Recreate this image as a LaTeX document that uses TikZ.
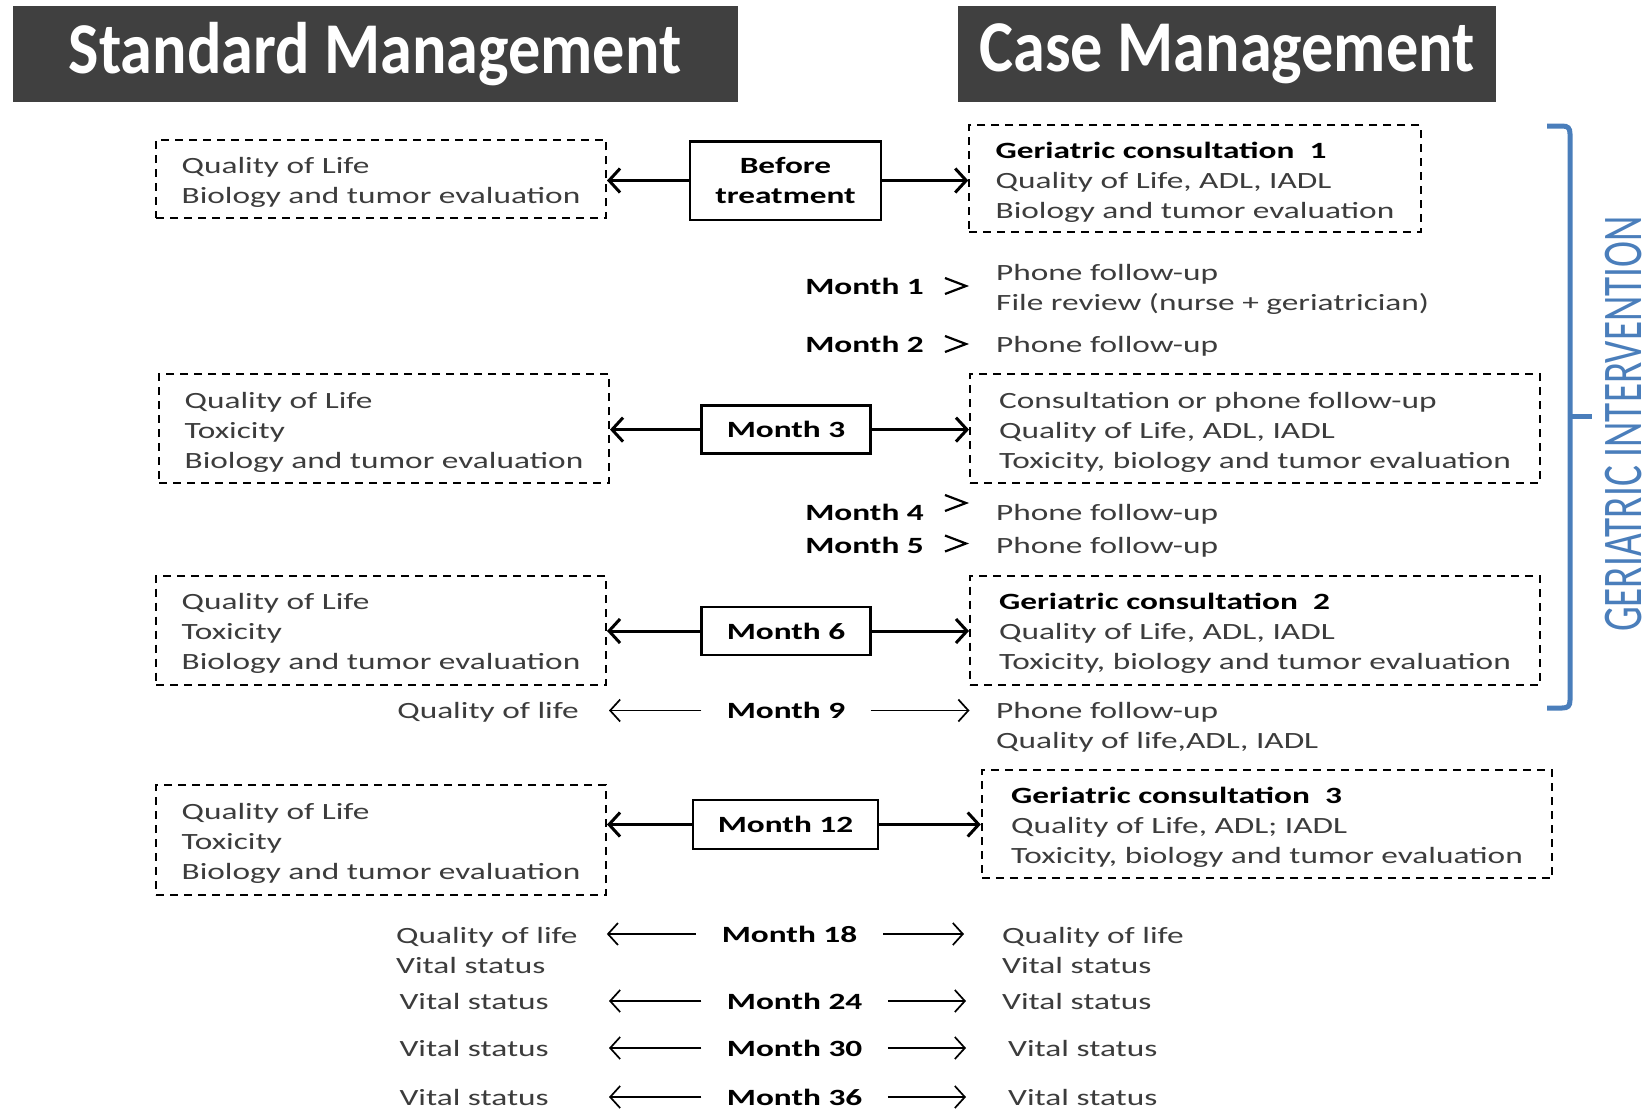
\documentclass[tikz,border=0pt]{standalone}
\usepackage{fontspec}
\setmainfont{Carlito}[FakeStretch=1.43]
\newfontfamily\titlefont{Carlito}[FakeStretch=0.88]
\newfontfamily\gifont{Carlito}[FakeStretch=0.7]
\usetikzlibrary{arrows.meta}
\definecolor{hdr}{HTML}{404040}
\definecolor{txt}{HTML}{3C3C3C}
\definecolor{gi}{HTML}{4A7EBB}
\newcommand{\dlines}[1]{\raisebox{-3.7pt}[\height][\depth]{\begin{tabular}{@{}l@{}}#1\end{tabular}}}
\begin{document}
\begin{tikzpicture}[x=1pt,y=-1pt,
 every node/.style={font=\fontsize{23.3}{30}\selectfont, text=txt},
 hdrbox/.style={fill=hdr, text=white, font=\titlefont\fontsize{73}{80}\selectfont\bfseries, minimum height=96, inner sep=0},
 dbox/.style={draw=black, line width=2pt, dash pattern=on 8pt off 6pt, inner sep=0},
 sbox/.style={draw=black, line width=2.5pt, align=center, inner sep=0, font=\fontsize{23.3}{30}\selectfont\bfseries, text=black},
 mlab/.style={font=\fontsize{23.3}{30}\selectfont\bfseries, text=black, inner sep=0},
 plain/.style={align=left, inner sep=0},
 bigarr/.style={line width=3pt, -{Straight Barb[length=11pt,width=24pt]}},
 thinarr/.style={line width=1.7pt, -{Straight Barb[length=10pt,width=22pt]}},
 chev/.style={line width=2.2pt, line join=miter}
]
\fill[white] (0,0) rectangle (1647,1109);
\useasboundingbox (0,0) rectangle (1647,1109);

% headers
\node[hdrbox, minimum width=725] (h1) at (375,54) {Standard Management};
\node[hdrbox, minimum width=538] (h2) at (1227,54) {Case Management};

% before treatment
\node[dbox, minimum width=450, minimum height=78.5] (l1) at (381,179) {\dlines{Quality of Life\\Biology and tumor evaluation}};
\node[sbox, minimum width=191, minimum height=78.5] (bt) at (785.5,180.5) {Before\\treatment};
\node[dbox, minimum width=451.5, minimum height=107] (r1) at (1195,178.5) {\dlines{{\bfseries\color{black}Geriatric consultation\ \ 1}\\Quality of Life, ADL, IADL\\Biology and tumor evaluation}};
\draw[bigarr] (bt.west) -- (bt.west -| l1.east);
\draw[bigarr] (bt.east) -- (bt.east -| r1.west);

% month 1, 2
\node[mlab, anchor=east] (m1) at (924,286) {Month 1};
\node[plain, anchor=west] (t1) at (996,289.5) {Phone follow-up\\File review (nurse + geriatrician)};
\draw[chev] ([shift={(21,-8)}]m1.east) -- ++(21,8) -- ++(-21,8);
\node[mlab, anchor=east] (m2) at (924,344) {Month 2};
\node[plain, anchor=west] (t2) at (996,346) {Phone follow-up};
\draw[chev] ([shift={(21,-8)}]m2.east) -- ++(21,8) -- ++(-21,8);

% month 3
\node[dbox, minimum width=450, minimum height=109] (l3) at (384,428.5) {\dlines{Quality of Life\\Toxicity\\Biology and tumor evaluation}};
\node[sbox, minimum width=169, minimum height=48] (m3) at (786,429.6) {Month 3};
\node[dbox, minimum width=570, minimum height=109] (r3) at (1255,428.5) {\dlines{Consultation or phone follow-up\\Quality of Life, ADL, IADL\\Toxicity, biology and tumor evaluation}};
\draw[bigarr] (m3.west) -- (m3.west -| l3.east);
\draw[bigarr] (m3.east) -- (m3.east -| r3.west);

% month 4, 5
\node[mlab, anchor=east] (m4) at (924,512) {Month 4};
\node[plain, anchor=west] (t4) at (996,514.5) {Phone follow-up};
\draw[chev] ([shift={(21,-17)}]m4.east) -- ++(21,8) -- ++(-21,8);
\node[mlab, anchor=east] (m5) at (924,545.5) {Month 5};
\node[plain, anchor=west] (t5) at (996,547.5) {Phone follow-up};
\draw[chev] ([shift={(21,-10)}]m5.east) -- ++(21,8) -- ++(-21,8);

% month 6
\node[dbox, minimum width=450, minimum height=109] (l6) at (381,630) {\dlines{Quality of Life\\Toxicity\\Biology and tumor evaluation}};
\node[sbox, minimum width=169, minimum height=48] (m6) at (786,631) {Month 6};
\node[dbox, minimum width=570, minimum height=109] (r6) at (1255,630) {\dlines{{\bfseries\color{black}Geriatric consultation\ \ 2}\\Quality of Life, ADL, IADL\\Toxicity, biology and tumor evaluation}};
\draw[bigarr] (m6.west) -- (m6.west -| l6.east);
\draw[bigarr] (m6.east) -- (m6.east -| r6.west);

% month 9
\node[mlab, minimum width=169] (m9) at (786,710.5) {Month 9};
\node[plain, anchor=east, inner xsep=30] (l9) at (609,712.5) {Quality of life};
\node[plain, anchor=west, inner xsep=26.5] (r9) at (969.5,727.5) {Phone follow-up\\Quality of life,ADL, IADL};
\draw[thinarr] (m9.west) -- (m9.west -| l9.east);
\draw[thinarr] (m9.east) -- (m9.east -| r9.west);

% month 12
\node[dbox, minimum width=450, minimum height=110] (l12) at (381,840) {\dlines{Quality of Life\\Toxicity\\Biology and tumor evaluation}};
\node[sbox, minimum width=185, minimum height=49] (m12) at (785.5,824.5) {Month 12};
\node[dbox, minimum width=570.5, minimum height=108] (r12) at (1267,824) {\dlines{{\bfseries\color{black}Geriatric consultation\ \ 3}\\Quality of Life, ADL; IADL\\Toxicity, biology and tumor evaluation}};
\draw[bigarr] (m12.west) -- (m12.west -| l12.east);
\draw[bigarr] (m12.east) -- (m12.east -| r12.west);

% month 18
\node[mlab, minimum width=187] (m18) at (789.5,934) {Month 18};
\node[plain, anchor=west, inner xsep=29] (l18) at (367,950.5) {Quality of life\\Vital status};
\node[plain, anchor=west, inner xsep=38] (r18) at (964,950.5) {Quality of life\\Vital status};
\draw[thinarr] (m18.west) -- (m18.west -| l18.east);
\draw[thinarr] (m18.east) -- (m18.east -| r18.west);

% month 24
\node[mlab, minimum width=186] (m24) at (794.6,1001) {Month 24};
\node[plain, anchor=east, inner xsep=60] (l24) at (609,1001) {Vital status};
\node[plain, anchor=west, inner xsep=36] (r24) at (966,1001) {Vital status};
\draw[thinarr] (m24.west) -- (l24.east);
\draw[thinarr] (m24.east) -- (r24.west);

% month 30
\node[mlab, minimum width=186] (m30) at (794.6,1048) {Month 30};
\node[plain, anchor=east, inner xsep=60] (l30) at (609,1048) {Vital status};
\node[plain, anchor=west, inner xsep=42] (r30) at (966,1048) {Vital status};
\draw[thinarr] (m30.west) -- (l30.east);
\draw[thinarr] (m30.east) -- (r30.west);

% month 36
\node[mlab, minimum width=186] (m36) at (794.6,1097) {Month 36};
\node[plain, anchor=east, inner xsep=60] (l36) at (609,1097) {Vital status};
\node[plain, anchor=west, inner xsep=42] (r36) at (966,1097) {Vital status};
\draw[thinarr] (m36.west) -- (l36.east);
\draw[thinarr] (m36.east) -- (r36.west);

% brace
\draw[gi, line width=5pt] (1547,126) -- (1562,126) .. controls (1568,126) and (1570,128) .. (1570,134) -- (1570,700) .. controls (1570,706) and (1568,708) .. (1562,708) -- (1547,708);
\draw[gi, line width=5pt] (1570,416) -- (1592,416);
\node[rotate=90, text=gi, font=\gifont\fontsize{56}{60}\selectfont, inner sep=0] (gi) at (1624,424) {GERIATRIC INTERVENTION};
\end{tikzpicture}
\end{document}
